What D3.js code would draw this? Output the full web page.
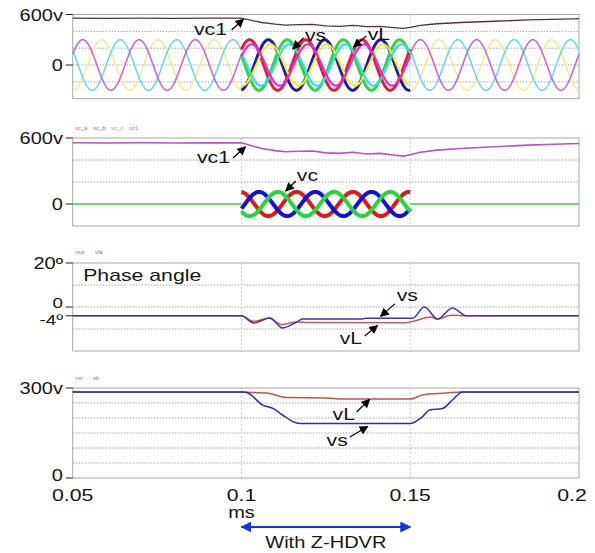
<!DOCTYPE html>
<html lang="en">
<head>
  <meta charset="UTF-8">
  <title>Z-HDVR waveforms</title>
  <script src="https://d3js.org/d3.v7.min.js"></script>
  <style>
    body { margin: 0; background: #fff; }
    text { font-family: "Liberation Sans", Arial, sans-serif; fill: #151515; }
    .frame { fill: none; stroke: #a8a8a8; stroke-width: 1; }
    .grid { stroke: #8c8c8c; stroke-width: 0.8; stroke-dasharray: 1.5,1.5; }
    .vgrid { stroke: #c4c4c4; stroke-width: 0.8; stroke-dasharray: 2,2; }
  </style>
</head>
<body>
<svg id="chart" width="595" height="553"></svg>

<script>
// ---- data (time in s) ----
const timeTicks = [0.05, 0.1, 0.15, 0.2];
const sagWindow = [0.1, 0.15];
const lineFreq = 60;

// three-phase sinusoids: lag of each phase in degrees
const phaseLag = [0, 120, 240];
const vLPeakTime = 0.053;          // first peak of the magenta phase
const vLAmpNormal = 300;
const vLAmpSag = 245;
const vsAmpSag = 300;
const vcPeakTime = 0.1052;         // first peak of the blue vc phase
const vcAmp = 110;

// dc link voltage vc1
const vc1Time = [0.05, 0.06, 0.07, 0.08, 0.09, 0.1, 0.103, 0.106, 0.11, 0.113, 0.117, 0.121, 0.125, 0.129, 0.133, 0.137, 0.141, 0.145, 0.148, 0.15, 0.153, 0.158, 0.165, 0.175, 0.185, 0.195, 0.2];
const vc1Volt = [557, 555, 557, 555, 556, 556, 530, 505, 485, 475, 480, 482, 465, 460, 470, 455, 460, 445, 435, 448, 470, 490, 505, 520, 535, 545, 550];

// phase angle (deg)
const vsAngleTime = [0.05, 0.1, 0.1036, 0.1084, 0.1122, 0.1164, 0.118, 0.135, 0.137, 0.1507, 0.1542, 0.1581, 0.1625, 0.1666, 0.2];
const vsAngle = [-4, -4, -7.3, -5, -9.5, -6.8, -5.5, -5.5, -5.1, -5.1, 0, -5.5, -0.5, -4, -4];
const vLAngleTime = [0.05, 0.1, 0.1036, 0.108, 0.112, 0.1164, 0.12, 0.148, 0.152, 0.156, 0.158, 0.162, 0.1666, 0.2];
const vLAngle = [-4, -4, -6.5, -5, -8, -6.8, -7, -7.2, -6, -4.5, -5.5, -3.8, -4, -4];

// rms voltage (v)
const vsRmsTime = [0.05, 0.1, 0.1016, 0.1063, 0.1093, 0.1122, 0.1152, 0.1173, 0.15, 0.1536, 0.1557, 0.1596, 0.1625, 0.1655, 0.2];
const vsRms = [287, 287, 285, 243, 232, 210, 188, 182, 182, 204, 227, 232, 260, 287, 287];
const vLRmsTime = [0.05, 0.1, 0.1016, 0.1075, 0.1134, 0.125, 0.13, 0.15, 0.1536, 0.1608, 0.1652, 0.2];
const vLRms = [287, 287, 286, 283, 268, 267, 263, 263, 277, 283, 287, 287];

// ---- layout ----
const svg = d3.select("#chart");
const x = d3.scaleLinear().domain([0.05, 0.2]).range([72.7, 579]);

// ticks: [value, label, baseline offset, font size]
const panels = [
  { dom: [-400, 600], rng: [98.7, 14.5], grid: [400, 200, 0, -200], ticks: [[600, "600v", 6, 16], [0, "0", 6, 16]] },
  { dom: [-200, 600], rng: [226, 138], grid: [400, 200], ticks: [[600, "600v", 6, 16], [0, "0", 6, 16]] },
  { dom: [-20, 20], rng: [351, 263], grid: [10, 0, -10], ticks: [[20, "20º", 6, 16], [0, "0", 1, 15], [-4, "-4º", 9, 15]] },
  { dom: [0, 300], rng: [478, 388], grid: [250, 200, 150, 100, 50], ticks: [[300, "300v", 6, 16], [0, "0", 3, 16]] }
];
panels.forEach(p => p.y = d3.scaleLinear().domain(p.dom).range(p.rng));

const defs = svg.append("defs");
function marker(id, color, size) {
  defs.append("marker").attr("id", id)
    .attr("viewBox", "0 0 10 10").attr("refX", 9).attr("refY", 5)
    .attr("markerWidth", size).attr("markerHeight", size)
    .attr("markerUnits", "userSpaceOnUse")
    .attr("orient", "auto-start-reverse")
    .append("path").attr("d", "M0,0 L10,5 L0,10 z").attr("fill", color);
}
marker("blk", "#000", 9);
marker("blu", "#1530e0", 11);

function label(g, px, py, str, anchor, size) {
  return g.append("text")
    .attr("transform", `translate(${px},${py}) scale(1.25,1)`)
    .attr("text-anchor", anchor || "start")
    .style("font-size", (size || 17) + "px")
    .text(str);
}

function note(p, txt, pos, anchor, from, to) {
  label(svg, x(pos[0]), p.y(pos[1]), txt, anchor);
  svg.append("line")
    .attr("x1", x(from[0])).attr("y1", p.y(from[1]))
    .attr("x2", x(to[0])).attr("y2", p.y(to[1]))
    .attr("stroke", "#000").attr("stroke-width", 1.2)
    .attr("marker-end", "url(#blk)");
}

// frames, grids, ticks
panels.forEach(p => {
  const g = svg.append("g");
  g.selectAll(".grid").data(p.grid).enter().append("line")
    .attr("class", "grid")
    .attr("x1", x(0.05)).attr("x2", x(0.2))
    .attr("y1", d => p.y(d)).attr("y2", d => p.y(d));
  g.selectAll(".vgrid").data(sagWindow).enter().append("line")
    .attr("class", "vgrid")
    .attr("x1", d => x(d)).attr("x2", d => x(d))
    .attr("y1", p.rng[1]).attr("y2", p.rng[0]);
  g.append("rect").attr("class", "frame")
    .attr("x", x(0.05)).attr("y", p.rng[1])
    .attr("width", x(0.2) - x(0.05)).attr("height", p.rng[0] - p.rng[1]);
  p.ticks.forEach(t => {
    const yy = p.y(t[0]);
    g.append("line").attr("x1", x(0.05) - 7).attr("x2", x(0.05))
      .attr("y1", yy).attr("y2", yy).attr("stroke", "#222").attr("stroke-width", 1);
    label(g, 63, yy + t[2], t[1], "end", t[3]);
  });
});

// time samples for drawing the sinusoids
function samples(t0, t1) {
  const n = Math.round((t1 - t0) / 0.0001);
  return d3.range(n + 1).map(i => t0 + (t1 - t0) * i / n);
}
function wave(amp, peak, lag) {
  return t => amp * Math.cos(2 * Math.PI * lineFreq * (t - peak) - lag * Math.PI / 180);
}
function drawWave(p, ts, f, color, width) {
  svg.append("path")
    .datum(ts)
    .attr("fill", "none").attr("stroke", color).attr("stroke-width", width)
    .attr("d", d3.line().x(t => x(t)).y(t => p.y(f(t))));
}

// ---- panel 1: vs, vL and vc1 ----
const p1 = panels[0];
const normalColors = ["#c46ccc", "#f1ec98", "#72d6e6"];
const sagVLColors = ["#e22ad6", "#eeee2a", "#2fe0e4"];
const sagVsColors = ["#e0203a", "#1c1ca8", "#2fd24e"];
const before = samples(0.05, sagWindow[0]);
const during = samples(sagWindow[0], sagWindow[1]);
const after = samples(sagWindow[1], 0.2);
[1, 2, 0].forEach(i => {
  drawWave(p1, before, wave(vLAmpNormal, vLPeakTime, phaseLag[i]), normalColors[i], 1.6);
  drawWave(p1, after, wave(vLAmpNormal, vLPeakTime, phaseLag[i]), normalColors[i], 1.6);
});
[1, 2, 0].forEach(i => drawWave(p1, during, wave(vsAmpSag, vLPeakTime - 0.0006, phaseLag[i]), sagVsColors[i], 3));
[1, 2, 0].forEach(i => drawWave(p1, during, wave(vLAmpSag, vLPeakTime, phaseLag[i]), sagVLColors[i], 2.2));

const vc1 = vc1Time.map((t, i) => [t, vc1Volt[i]]);
svg.append("path").datum(vc1)
  .attr("fill", "none").attr("stroke", "#5a3434").attr("stroke-width", 1.3)
  .attr("d", d3.line().x(d => x(d[0])).y(d => p1.y(d[1])));

note(p1, "vc1", [0.0957, 356], "end", [0.0971, 416], [0.1006, 546]);
note(p1, "vs", [0.1188, 290], "start", [0.1184, 326], [0.1152, 190]);
note(p1, "vL", [0.1374, 300], "start", [0.137, 344], [0.1332, 214]);

// ---- panel 2: vc1 and vc ----
const p2 = panels[1];
const vcColors = ["#1010d8", "#22d83a", "#e01818"];
const legend2 = [["vc_a", "#e07070"], ["vc_b", "#7070e0"], ["vc_c", "#70d070"], ["vc1", "#d070d0"]];
legend2.forEach((l, i) => svg.append("text").attr("x", 75 + i * 18).attr("y", 130)
  .style("font-size", "6px").style("fill", l[1]).text(l[0]));
[2, 0, 1].forEach(i => drawWave(p2, during, wave(vcAmp, vcPeakTime, phaseLag[i]), vcColors[i], 4));
[before, after].forEach(ts => drawWave(p2, ts, () => 0, "#3ccc3c", 1.3));
svg.append("path").datum(vc1)
  .attr("fill", "none").attr("stroke", "#b456b8").attr("stroke-width", 1.6)
  .attr("d", d3.line().x(d => x(d[0])).y(d => p2.y(d[1])));

note(p2, "vc1", [0.0966, 373], "end", [0.0975, 418], [0.1012, 520]);
note(p2, "vc", [0.1164, 209], "start", [0.1161, 209], [0.1131, 118]);

// ---- panel 3: phase angle ----
const p3 = panels[2];
[["vsa", "#e07070"], ["vla", "#7070e0"]].forEach((l, i) => svg.append("text")
  .attr("x", 75 + i * 20).attr("y", 254).style("font-size", "6px").style("fill", l[1]).text(l[0]));
const angLine = d3.line().x(d => x(d[0])).y(d => p3.y(d[1])).curve(d3.curveMonotoneX);
svg.append("path").datum(vLAngleTime.map((t, i) => [t, vLAngle[i]]))
  .attr("fill", "none").attr("stroke", "#c85a5a").attr("stroke-width", 1.5).attr("d", angLine);
svg.append("path").datum(vsAngleTime.map((t, i) => [t, vsAngle[i]]))
  .attr("fill", "none").attr("stroke", "#3b3b9c").attr("stroke-width", 1.5).attr("d", angLine);
label(svg, x(0.0531), p3.y(11.8), "Phase angle", "start");
note(p3, "vs", [0.146, 2.7], "start", [0.1454, 1.4], [0.1412, -4.3]);
note(p3, "vL", [0.1291, -16.8], "start", [0.1365, -13.2], [0.1403, -8.4]);

// ---- panel 4: rms voltage ----
const p4 = panels[3];
[["vsr", "#e07070"], ["vlr", "#7070e0"]].forEach((l, i) => svg.append("text")
  .attr("x", 75 + i * 18).attr("y", 380).style("font-size", "6px").style("fill", l[1]).text(l[0]));
const rmsLine = d3.line().x(d => x(d[0])).y(d => p4.y(d[1])).curve(d3.curveMonotoneX);
svg.append("path").datum(vLRmsTime.map((t, i) => [t, vLRms[i]]))
  .attr("fill", "none").attr("stroke", "#c0544e").attr("stroke-width", 1.5).attr("d", rmsLine);
svg.append("path").datum(vsRmsTime.map((t, i) => [t, vsRms[i]]))
  .attr("fill", "none").attr("stroke", "#2e2ea0").attr("stroke-width", 1.5).attr("d", rmsLine);
note(p4, "vL", [0.127, 193], "start", [0.1341, 220], [0.1380, 262]);
note(p4, "vs", [0.1252, 107], "start", [0.1321, 137], [0.1374, 172]);

// ---- x axis ----
timeTicks.forEach((t, i) => {
  const last = i === timeTicks.length - 1;
  label(svg, last ? x(t) - 7 : x(t), 501, String(t), "middle", 17);
});
label(svg, x(0.1), 518, "ms", "middle", 16);
svg.append("line")
  .attr("x1", x(sagWindow[0])).attr("x2", x(sagWindow[1]))
  .attr("y1", 527).attr("y2", 527)
  .attr("stroke", "#1530e0").attr("stroke-width", 2)
  .attr("marker-start", "url(#blu)").attr("marker-end", "url(#blu)");
label(svg, x(d3.mean(sagWindow)), 548, "With Z-HDVR", "middle", 16);
</script>
</body>
</html>
